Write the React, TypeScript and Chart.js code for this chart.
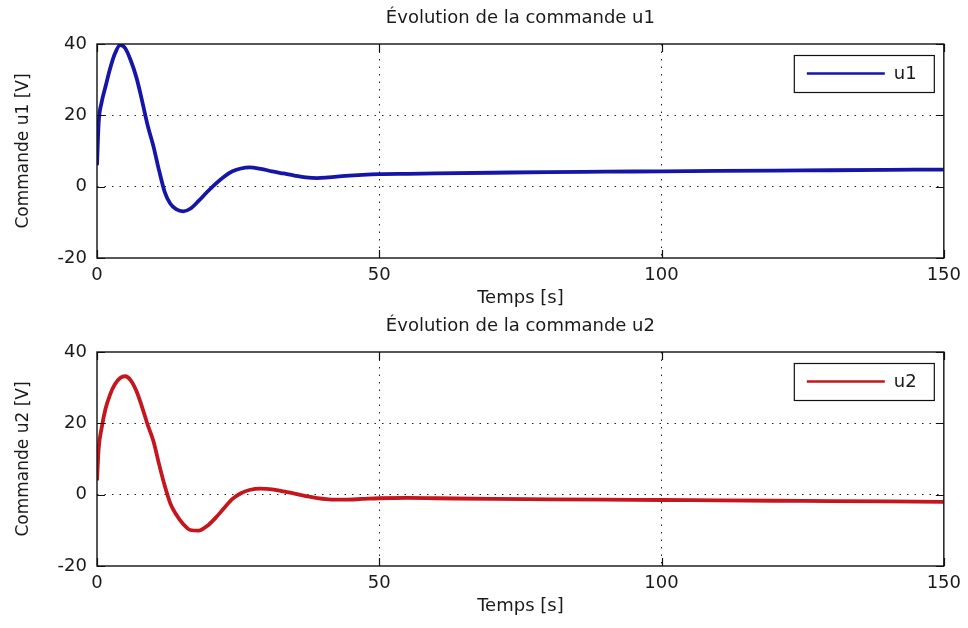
import React, { useEffect, useRef } from "react";
import { Chart, registerables } from "chart.js";

Chart.register(...registerables);

// Simulation time (s) and the two control signals (V)
const timeS = [
  0, 0.3, 0.8, 1.5, 2.3, 3.2, 4.1, 5.0, 6.0, 7.0, 8.0, 9.0, 10.0, 11.0, 12.0, 13.0, 14.0,
  15.3, 16.5, 18, 19.5, 21, 22.5, 24, 25.5, 27, 29, 31, 33, 35, 37, 39, 41, 44, 47, 50,
  55, 60, 70, 80, 90, 100, 110, 120, 130, 140, 150,
];

const commandeU1 = [
  6, 18, 23.5, 28, 33, 37.4, 39.7, 38.8, 35.3, 30.5, 24, 17, 11.3, 4.5, -1.5, -4.8, -6.3,
  -6.9, -6.2, -4, -1.5, 0.8, 2.8, 4.3, 5.1, 5.4, 5.0, 4.3, 3.7, 3.1, 2.6, 2.4, 2.6, 3.0, 3.3, 3.5,
  3.6, 3.7, 3.9, 4.1, 4.2, 4.3, 4.4, 4.5, 4.6, 4.7, 4.8,
];

const commandeU2 = [
  4, 13, 18.5, 24, 28, 31, 32.7, 33.2, 32, 29, 24.5, 19.5, 15, 8.5, 2.5, -2.5, -5.5,
  -8.3, -9.9, -10.1, -8.8, -6.5, -3.8, -1.2, 0.4, 1.3, 1.7, 1.5, 0.9, 0.3, -0.4, -1.0, -1.3, -1.4, -1.2, -1.0,
  -0.9, -1.0, -1.2, -1.3, -1.4, -1.5, -1.6, -1.7, -1.8, -1.9, -2.0,
];

const xRange = [0, 150];
const xStep = 50;
const yRange = [-20, 40];
const yStep = 20;

const FONT = "'DejaVu Sans', 'Liberation Sans', sans-serif";
const TEXT = "#1a1a1a";
const W = 968;
const H = 314;

// Box around the axes, inward tick marks, title and an in-plot legend
const frame = {
  id: "frame",
  afterDatasetsDraw(chart: any, _args: any, opts: any) {
    const { ctx, chartArea: a, scales } = chart;
    const x = scales.x;
    const y = scales.y;
    ctx.save();

    ctx.strokeStyle = "#111";
    ctx.lineWidth = 1.4;
    ctx.strokeRect(a.left, a.top, a.right - a.left, a.bottom - a.top);

    const tl = 8;
    ctx.lineWidth = 1.2;
    ctx.beginPath();
    x.ticks.forEach((t: any) => {
      const px = Math.round(x.getPixelForValue(t.value)) + 0.5;
      ctx.moveTo(px, a.bottom);
      ctx.lineTo(px, a.bottom - tl);
      ctx.moveTo(px, a.top);
      ctx.lineTo(px, a.top + tl);
    });
    y.ticks.forEach((t: any) => {
      const py = Math.round(y.getPixelForValue(t.value)) + 0.5;
      ctx.moveTo(a.left, py);
      ctx.lineTo(a.left + tl, py);
      ctx.moveTo(a.right, py);
      ctx.lineTo(a.right - tl, py);
    });
    ctx.stroke();

    // title
    ctx.fillStyle = TEXT;
    ctx.font = `18px ${FONT}`;
    ctx.textAlign = "center";
    ctx.textBaseline = "middle";
    ctx.fillText(opts.title, (a.left + a.right) / 2, 18);

    // legend
    const ds = chart.data.datasets[0];
    const bx = a.right - 150;
    const by = a.top + 11;
    const bw = 140;
    const bh = 37;
    ctx.fillStyle = "#fff";
    ctx.fillRect(bx, by, bw, bh);
    ctx.strokeStyle = "#111";
    ctx.lineWidth = 1.2;
    ctx.strokeRect(bx + 0.5, by + 0.5, bw, bh);
    ctx.strokeStyle = ds.borderColor;
    ctx.lineWidth = 2.5;
    ctx.beginPath();
    ctx.moveTo(bx + 13, by + bh / 2);
    ctx.lineTo(bx + 91, by + bh / 2);
    ctx.stroke();
    ctx.fillStyle = TEXT;
    ctx.textAlign = "left";
    ctx.fillText(ds.label, bx + 100, by + bh / 2 + 1);

    ctx.restore();
  },
};

const edgeless = (c: any) =>
  c.tick && (c.tick.value === c.scale.min || c.tick.value === c.scale.max)
    ? "rgba(0,0,0,0)"
    : "#222";

type PanelProps = {
  top: number;
  label: string;
  values: number[];
  color: string;
  title: string;
  yTitle: string;
};

function Panel({ top, label, values, color, title, yTitle }: PanelProps) {
  const ref = useRef<HTMLCanvasElement>(null);

  useEffect(() => {
    const chart = new Chart(ref.current as HTMLCanvasElement, {
      type: "line",
      data: {
        datasets: [
          {
            label,
            data: timeS.map((t, i) => ({ x: t, y: values[i] })),
            borderColor: color,
            borderWidth: 3.8,
            pointRadius: 0,
            fill: false,
            cubicInterpolationMode: "monotone",
          },
        ],
      },
      options: {
        responsive: false,
        animation: false,
        layout: { padding: { top: 44, right: 24, left: 0, bottom: 0 } },
        plugins: {
          legend: { display: false },
          tooltip: { enabled: false },
          frame: { title },
        } as any,
        scales: {
          x: {
            type: "linear",
            min: xRange[0],
            max: xRange[1],
            afterFit: (s: any) => {
              s.height = 56;
            },
            ticks: {
              stepSize: xStep,
              padding: 7,
              color: TEXT,
              font: { family: FONT, size: 18, lineHeight: 1.2 },
              maxRotation: 0,
            },
            grid: { color: edgeless, lineWidth: 1, drawTicks: false },
            border: { display: false, dash: [1.5, 6] },
            title: {
              display: true,
              text: "Temps [s]",
              color: TEXT,
              font: { family: FONT, size: 18, lineHeight: 1.2 },
              padding: { top: 0, bottom: 5 },
            },
          },
          y: {
            type: "linear",
            min: yRange[0],
            max: yRange[1],
            afterFit: (s: any) => {
              s.width = 97;
            },
            ticks: {
              stepSize: yStep,
              padding: 10,
              color: TEXT,
              font: { family: FONT, size: 18, lineHeight: 1.2 },
            },
            grid: { color: edgeless, lineWidth: 1, drawTicks: false },
            border: { display: false, dash: [1.5, 6] },
            title: {
              display: true,
              text: yTitle,
              color: TEXT,
              font: { family: FONT, size: 17, lineHeight: 1.2 },
              padding: { top: 13, bottom: 0 },
            },
          },
        },
      } as any,
      plugins: [frame],
    });
    return () => chart.destroy();
  }, []);

  return (
    <div style={{ position: "absolute", left: 0, top, width: W, height: H }}>
      <canvas ref={ref} width={W} height={H} />
    </div>
  );
}

export default function App() {
  return (
    <div
      style={{
        position: "absolute",
        left: 0,
        top: 0,
        width: 968,
        height: 628,
        background: "#fff",
        overflow: "hidden",
      }}
    >
      <Panel
        top={0}
        label="u1"
        values={commandeU1}
        color="#1515a8"
        title="Évolution de la commande u1"
        yTitle="Commande u1 [V]"
      />
      <Panel
        top={308}
        label="u2"
        values={commandeU2}
        color="#c4161c"
        title="Évolution de la commande u2"
        yTitle="Commande u2 [V]"
      />
    </div>
  );
}
